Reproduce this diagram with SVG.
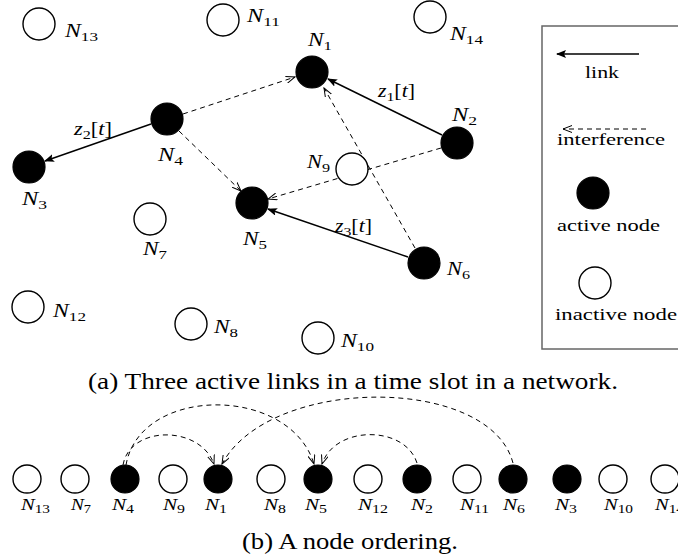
<svg xmlns="http://www.w3.org/2000/svg" width="678" height="560" viewBox="0 0 678 560">
<style>
.act{fill:#000;stroke:#000;stroke-width:1.2}
.ina{fill:#fff;stroke:#000;stroke-width:1.4}
.lbl{font-family:"Liberation Serif",serif;font-style:italic;font-size:18px;fill:#000}
.sub{font-style:normal;font-size:13px}
.rm{font-style:normal}
.blbl{font-family:"Liberation Serif",serif;font-style:italic;font-size:16px;fill:#000}
.bsub{font-style:normal;font-size:12px}
.leg{font-family:"Liberation Serif",serif;font-size:17px;fill:#000}
.cap{font-family:"Liberation Serif",serif;font-size:22.5px;fill:#000}
.link{stroke:#000;stroke-width:1.4;fill:none;marker-end:url(#sol)}
.intf{stroke:#000;stroke-width:1;fill:none;stroke-dasharray:5 4;marker-end:url(#dsh)}
</style>
<defs>
<marker id="sol" viewBox="0 0 10 8" refX="9" refY="4" markerWidth="10" markerHeight="8" markerUnits="userSpaceOnUse" orient="auto">
<path d="M0,0 L10,4 L0,8 L2,4 Z" fill="#000"/>
</marker>
<marker id="dsh" viewBox="0 0 10 8" refX="9" refY="4" markerWidth="10" markerHeight="8" markerUnits="userSpaceOnUse" orient="auto">
<path d="M0,0.5 L9,4 L0,7.5" fill="none" stroke="#000" stroke-width="1"/>
</marker>
</defs>

<g id="connectors">
<line class="link" x1="442" y1="135" x2="328" y2="79"/>
<line class="link" x1="151" y1="124" x2="45" y2="161"/>
<line class="link" x1="408" y1="257" x2="268" y2="209"/>
<line class="intf" x1="183" y1="114" x2="295" y2="77"/>
<line class="intf" x1="179" y1="131" x2="241" y2="191"/>
<line class="intf" x1="441" y1="148" x2="268" y2="199"/>
<line class="intf" x1="415" y1="248" x2="324" y2="88"/>
<path class="intf" d="M123,465 C130,425 200,425 214,464"/>
<path class="intf" d="M126,465 C140,385 290,385 314,464"/>
<path class="intf" d="M417,463 C405,425 335,425 322,464"/>
<path class="intf" d="M513,463 C490,375 270,375 222,464"/>
</g>

<g id="link-labels">
<text class="lbl" x="378" y="97" textLength="37" lengthAdjust="spacingAndGlyphs">z<tspan class="sub" dy="4">1</tspan><tspan class="rm" dy="-4">[</tspan>t<tspan class="rm">]</tspan></text>
<text class="lbl" x="74" y="135" textLength="38" lengthAdjust="spacingAndGlyphs">z<tspan class="sub" dy="4">2</tspan><tspan class="rm" dy="-4">[</tspan>t<tspan class="rm">]</tspan></text>
<text class="lbl" x="335" y="232" textLength="37" lengthAdjust="spacingAndGlyphs">z<tspan class="sub" dy="4">3</tspan><tspan class="rm" dy="-4">[</tspan>t<tspan class="rm">]</tspan></text>
</g>

<g id="N1"><circle class="act" cx="312" cy="72" r="16"/><text class="lbl" x="308" y="46" textLength="24" lengthAdjust="spacingAndGlyphs">N<tspan class="sub" dy="4">1</tspan></text></g>
<g id="N2"><circle class="act" cx="457" cy="143" r="16"/><text class="lbl" x="452" y="121" textLength="25" lengthAdjust="spacingAndGlyphs">N<tspan class="sub" dy="4">2</tspan></text></g>
<g id="N3"><circle class="act" cx="29" cy="167" r="16"/><text class="lbl" x="22" y="205" textLength="25" lengthAdjust="spacingAndGlyphs">N<tspan class="sub" dy="4">3</tspan></text></g>
<g id="N4"><circle class="act" cx="167" cy="119" r="16"/><text class="lbl" x="158" y="161" textLength="25" lengthAdjust="spacingAndGlyphs">N<tspan class="sub" dy="4">4</tspan></text></g>
<g id="N5"><circle class="act" cx="252" cy="203" r="16"/><text class="lbl" x="243" y="245" textLength="24" lengthAdjust="spacingAndGlyphs">N<tspan class="sub" dy="4">5</tspan></text></g>
<g id="N6"><circle class="act" cx="424" cy="263" r="16"/><text class="lbl" x="447" y="275" textLength="23" lengthAdjust="spacingAndGlyphs">N<tspan class="sub" dy="4">6</tspan></text></g>
<g id="N7"><circle class="ina" cx="150" cy="219" r="16"/><text class="lbl" x="143" y="255" textLength="24" lengthAdjust="spacingAndGlyphs">N<tspan class="sub" dy="4">7</tspan></text></g>
<g id="N8"><circle class="ina" cx="191" cy="324" r="16"/><text class="lbl" x="214" y="333" textLength="24" lengthAdjust="spacingAndGlyphs">N<tspan class="sub" dy="4">8</tspan></text></g>
<g id="N9"><circle class="ina" cx="352" cy="169" r="16"/><text class="lbl" x="307" y="168" textLength="23" lengthAdjust="spacingAndGlyphs">N<tspan class="sub" dy="4">9</tspan></text></g>
<g id="N10"><circle class="ina" cx="318" cy="338" r="16"/><text class="lbl" x="341" y="347" textLength="33" lengthAdjust="spacingAndGlyphs">N<tspan class="sub" dy="4">10</tspan></text></g>
<g id="N11"><circle class="ina" cx="223" cy="20" r="16"/><text class="lbl" x="247" y="22" textLength="33" lengthAdjust="spacingAndGlyphs">N<tspan class="sub" dy="4">11</tspan></text></g>
<g id="N12"><circle class="ina" cx="28" cy="307" r="16"/><text class="lbl" x="53" y="317" textLength="33" lengthAdjust="spacingAndGlyphs">N<tspan class="sub" dy="4">12</tspan></text></g>
<g id="N13"><circle class="ina" cx="39" cy="24" r="16"/><text class="lbl" x="65" y="37" textLength="33" lengthAdjust="spacingAndGlyphs">N<tspan class="sub" dy="4">13</tspan></text></g>
<g id="N14"><circle class="ina" cx="430" cy="17" r="16"/><text class="lbl" x="450" y="40" textLength="33" lengthAdjust="spacingAndGlyphs">N<tspan class="sub" dy="4">14</tspan></text></g>

<g id="legend">
<rect x="542" y="26" width="160" height="323" fill="none" stroke="#666" stroke-width="1.5"/>
<line class="link" x1="639" y1="54" x2="557" y2="54"/>
<text class="leg" x="585" y="78" textLength="34" lengthAdjust="spacingAndGlyphs">link</text>
<line class="intf" x1="646" y1="129" x2="563" y2="129"/>
<text class="leg" x="557" y="145" textLength="108" lengthAdjust="spacingAndGlyphs">interference</text>
<circle class="act" cx="593" cy="193" r="16"/>
<text class="leg" x="557" y="231" textLength="103" lengthAdjust="spacingAndGlyphs">active node</text>
<circle class="ina" cx="595" cy="283" r="16"/>
<text class="leg" x="555" y="320" textLength="122" lengthAdjust="spacingAndGlyphs">inactive node</text>
</g>

<text class="cap" x="88" y="389" textLength="530" lengthAdjust="spacingAndGlyphs">(a) Three active links in a time slot in a network.</text>

<g id="B-N13"><circle class="ina" cx="27" cy="479" r="14"/><text class="blbl" x="21" y="510" textLength="29" lengthAdjust="spacingAndGlyphs">N<tspan class="bsub" dy="3">13</tspan></text></g>
<g id="B-N7"><circle class="ina" cx="75" cy="479" r="14"/><text class="blbl" x="71" y="510" textLength="20" lengthAdjust="spacingAndGlyphs">N<tspan class="bsub" dy="3">7</tspan></text></g>
<g id="B-N4"><circle class="act" cx="125" cy="479" r="14"/><text class="blbl" x="112" y="510" textLength="22" lengthAdjust="spacingAndGlyphs">N<tspan class="bsub" dy="3">4</tspan></text></g>
<g id="B-N9"><circle class="ina" cx="173" cy="479" r="14"/><text class="blbl" x="163" y="510" textLength="22" lengthAdjust="spacingAndGlyphs">N<tspan class="bsub" dy="3">9</tspan></text></g>
<g id="B-N1"><circle class="act" cx="218" cy="479" r="14"/><text class="blbl" x="205" y="510" textLength="22" lengthAdjust="spacingAndGlyphs">N<tspan class="bsub" dy="3">1</tspan></text></g>
<g id="B-N8"><circle class="ina" cx="271" cy="479" r="14"/><text class="blbl" x="264" y="510" textLength="22" lengthAdjust="spacingAndGlyphs">N<tspan class="bsub" dy="3">8</tspan></text></g>
<g id="B-N5"><circle class="act" cx="318" cy="479" r="14"/><text class="blbl" x="305" y="510" textLength="22" lengthAdjust="spacingAndGlyphs">N<tspan class="bsub" dy="3">5</tspan></text></g>
<g id="B-N12"><circle class="ina" cx="368" cy="479" r="14"/><text class="blbl" x="358" y="510" textLength="30" lengthAdjust="spacingAndGlyphs">N<tspan class="bsub" dy="3">12</tspan></text></g>
<g id="B-N2"><circle class="act" cx="417" cy="479" r="14"/><text class="blbl" x="411" y="510" textLength="22" lengthAdjust="spacingAndGlyphs">N<tspan class="bsub" dy="3">2</tspan></text></g>
<g id="B-N11"><circle class="ina" cx="467" cy="479" r="14"/><text class="blbl" x="460" y="510" textLength="29" lengthAdjust="spacingAndGlyphs">N<tspan class="bsub" dy="3">11</tspan></text></g>
<g id="B-N6"><circle class="act" cx="513" cy="479" r="14"/><text class="blbl" x="503" y="510" textLength="22" lengthAdjust="spacingAndGlyphs">N<tspan class="bsub" dy="3">6</tspan></text></g>
<g id="B-N3"><circle class="act" cx="567" cy="479" r="14"/><text class="blbl" x="555" y="510" textLength="22" lengthAdjust="spacingAndGlyphs">N<tspan class="bsub" dy="3">3</tspan></text></g>
<g id="B-N10"><circle class="ina" cx="613" cy="479" r="14"/><text class="blbl" x="604" y="510" textLength="29" lengthAdjust="spacingAndGlyphs">N<tspan class="bsub" dy="3">10</tspan></text></g>
<g id="B-N14"><circle class="ina" cx="665" cy="479" r="14"/><text class="blbl" x="655" y="510" textLength="29" lengthAdjust="spacingAndGlyphs">N<tspan class="bsub" dy="3">14</tspan></text></g>

<text class="cap" x="242" y="549" font-size="22" textLength="216" lengthAdjust="spacingAndGlyphs">(b) A node ordering.</text>
</svg>
